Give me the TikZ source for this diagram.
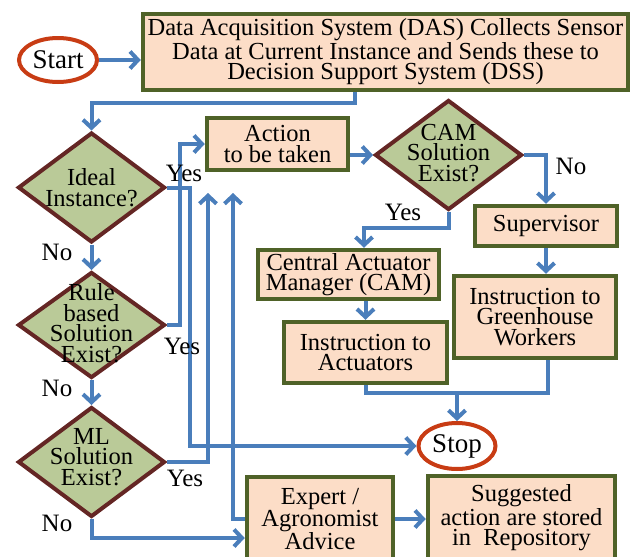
\documentclass[tikz,border=0pt]{standalone}
\usepackage{fontspec}
\setmainfont{Liberation Serif}
\usetikzlibrary{shapes.geometric, arrows.meta}

\definecolor{boxfill}{RGB}{252,221,199}
\definecolor{boxline}{RGB}{79,98,40}
\definecolor{diafill}{RGB}{186,202,152}
\definecolor{dialine}{RGB}{100,38,36}
\definecolor{termline}{RGB}{200,60,20}
\definecolor{flowblue}{RGB}{74,126,187}

\tikzset{
  box/.style={draw=boxline, fill=boxfill, line width=4.5pt, align=center, inner sep=0pt, font=\fontsize{24.5}{20.5}\selectfont},
  decision/.style={diamond, draw=dialine, fill=diafill, line width=4pt, inner sep=0pt, minimum width=147pt, minimum height=110pt},
  dtext/.style={align=center, inner sep=0pt, font=\fontsize{24.5}{20.5}\selectfont},
  terminal/.style={ellipse, draw=termline, fill=white, line width=4pt, inner sep=0pt, font=\fontsize{27}{27}\selectfont},
  flow/.style={draw=flowblue, line width=4pt, -{Straight Barb[length=8pt,width=17pt]}},
  line/.style={draw=flowblue, line width=4pt},
  lbl/.style={inner sep=0pt, font=\fontsize{25}{25}\selectfont},
}

\begin{document}
\begin{tikzpicture}[x=1pt, y=-1pt]
  \useasboundingbox (0,0) rectangle (632,557);

  \node[terminal, minimum width=78pt, minimum height=44pt] (start) at (58,60) {Start};
  \node[terminal, minimum width=77pt, minimum height=46pt] (stop) at (457,446) {Stop};

  \node[box, minimum width=485pt, minimum height=76pt] (das) at (385.5,52)
    {Data Acquisition System (DAS) Collects Sensor\\Data at Current Instance and Sends these to\\Decision Support System (DSS)};
  \node[box, minimum width=141pt, minimum height=52pt] (action) at (277.5,144) {Action\\to be taken};
  \node[box, minimum width=142pt, minimum height=40pt] (supervisor) at (546,226) {Supervisor};
  \node[box, minimum width=181pt, minimum height=49pt] (cammgr) at (348.5,274.5) {Central Actuator\\Manager (CAM)};
  \node[box, minimum width=163pt, minimum height=61pt] (actuators) at (365.5,352.5) {Instruction to\\Actuators};
  \node[box, minimum width=162pt, minimum height=82pt] (workers) at (535,317) {Instruction to\\Greenhouse\\Workers};
  \node[box, minimum width=146pt, minimum height=84pt] (expert) at (320,519) {Expert /\\Agronomist\\Advice};
  \node[box, minimum width=187pt, minimum height=84pt] (suggested) at (521.5,518) {Suggested\\action are stored\\in \ Repository};

  \node[decision] (ideal) at (91.5,187.5) {};
  \node[dtext] (idealtext) at (ideal) {Ideal\\Instance?};
  \node[decision, minimum height=106pt] (rule) at (91.5,325) {};
  \node[dtext] (ruletext) at (91.5,323) {Rule\\based\\Solution\\Exist?};
  \node[decision] (ml) at (91.5,462) {};
  \node[dtext] (mltext) at (91.5,457) {ML\\Solution\\Exist?};
  \node[decision] (cam) at (448.5,155) {};
  \node[dtext] (camtext) at (448.5,153) {CAM\\Solution\\Exist?};

  \coordinate (dasturn) at (355,103);
  \coordinate (yesturn) at (190,446);
  \coordinate (mlend) at (208,193);
  \coordinate (expend) at (233,193);
  \coordinate (camturn) at (364,228);
  \coordinate (merge) at (457,393);

  \draw[flow] (start.east) -- (start.east -| das.west);
  \draw[flow] (das.south -| dasturn) -- (dasturn) -| (ideal.north);
  \draw[flow] (ideal.south) -- (rule.north);
  \draw[flow] (rule.south) -- (ml.north);
  \draw[flow] (ideal.east) -| (yesturn) -- (stop.west);
  \draw[flow] (rule.east) -| ([xshift=-25pt]action.west) -- (action.west);
  \draw[flow] (ml.east) -| (mlend);
  \draw[flow] (expert.west) -| (expend);
  \draw[flow] (ml.south) |- ([yshift=-19pt]expert.west);
  \draw[flow] (action.east |- cam.west) -- (cam.west);
  \draw[flow] (cam.east) -| (supervisor.north);
  \draw[flow] (cam.south) |- (camturn) -- (camturn |- cammgr.north);
  \draw[flow] (actuators.north |- cammgr.south) -- (actuators.north);
  \draw[flow] (supervisor.south) -- (supervisor.south |- workers.north);
  \draw[line] (actuators.south) |- (merge) -| ([xshift=13pt]workers.south);
  \draw[flow] (merge) -- (stop.north);
  \draw[flow] (expert.east) -- (expert.east -| suggested.west);

  \node[lbl] (yesideal) at (184,173) {Yes};
  \node[lbl] (noideal) at (57,252) {No};
  \node[lbl] (yesrule) at (182,346) {Yes};
  \node[lbl] (norule) at (57,388) {No};
  \node[lbl] (yesml) at (185,478) {Yes};
  \node[lbl] (noml) at (57,523) {No};
  \node[lbl] (yescam) at (403,212) {Yes};
  \node[lbl] (nocam) at (571,166) {No};
\end{tikzpicture}
\end{document}
